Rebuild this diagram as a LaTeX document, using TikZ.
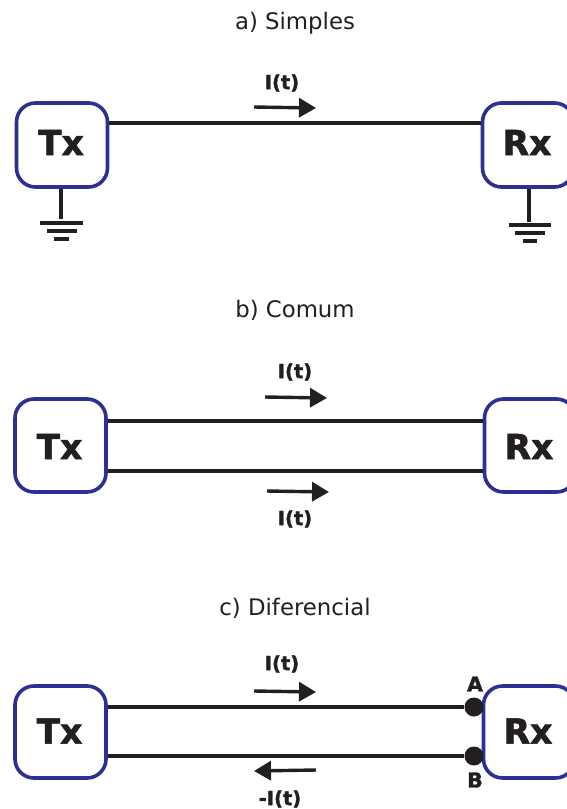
\documentclass[tikz,border=0pt]{standalone}
\usepackage{fontspec}
\setmainfont{DejaVu Sans}
\newfontfamily\heavyfont[FakeBold=1.6]{DejaVu Sans Bold}
\usetikzlibrary{arrows.meta}
\definecolor{boxblue}{RGB}{44,48,146}
\definecolor{ink}{RGB}{35,31,32}
\newcommand{\unitlab}[2][2.5pt]{\raisebox{#1}[\height][\depth]{#2}\kern2pt}
\tikzset{
  x=1pt,y=-1pt,
  unit/.style={draw=boxblue,line width=3.6pt,rounded corners=19pt,fill=white,minimum width=91pt,minimum height=#1,inner sep=0pt,text=ink,font=\heavyfont\fontsize{34.5}{34.5}\selectfont},
  title/.style={font=\fontsize{22.8}{26}\selectfont,text=ink,inner sep=0pt},
  wire/.style={draw=ink,line width=3.5pt},
  gnd/.style={draw=ink,line width=3.4pt},
  flow/.style={draw=ink,line width=3.4pt,-{Triangle[length=17pt,width=19pt]}},
  cur/.style={font=\heavyfont\fontsize{19.5}{22}\selectfont,text=ink,inner sep=0pt},
  term/.style={circle,fill=ink,minimum size=19pt,inner sep=0pt},
  pin/.style={font=\heavyfont\fontsize{20.5}{22}\selectfont,text=ink,inner sep=0pt}
}
\begin{document}
\begin{tikzpicture}
\useasboundingbox (0,0) rectangle (566,809);
% a
\node[title] (ta) at (295,23) {a) Simples};
\node[unit=84pt] (txa) at (62,145) {\unitlab{Tx}};
\node[unit=84pt] (rxa) at (528,145) {\unitlab{Rx}};
\draw[wire] (txa.east |- 0,123) -- (rxa.west |- 0,123);
\node[cur] (ia) at (282,83) {I(t)};
\coordinate (fa1) at (254,107);\coordinate (fa2) at (316,108);
\draw[flow] (fa1) -- (fa2);
\coordinate (ga) at (61,219);\coordinate (gb) at (529,222);
\draw[gnd] (txa.south -| ga) -- (ga);
\draw[gnd] (40,223) -- (83,223) (47,231) -- (77,231) (54,239) -- (69,239);
\draw[gnd] (rxa.south -| gb) -- (gb);
\draw[gnd] (509,225) -- (551,225) (515,233) -- (545,233) (523,241) -- (537,241);
% b
\node[title] (tb) at (295,310) {b) Comum};
\node[unit=93pt] (txb) at (60.5,445.5) {\unitlab[-1pt]{Tx}};
\node[unit=93pt] (rxb) at (530,445.5) {\unitlab[-1pt]{Rx}};
\draw[wire] (txb.east |- 0,421) -- (rxb.west |- 0,421);
\draw[wire] (txb.east |- 0,471) -- (rxb.west |- 0,471);
\node[cur] (ib1) at (295,372) {I(t)};
\node[cur] (ib2) at (295,519) {I(t)};
\coordinate (fb1) at (265,397);\coordinate (fb2) at (327,398);
\coordinate (fb3) at (267,491);\coordinate (fb4) at (329,492);
\draw[flow] (fb1) -- (fb2);
\draw[flow] (fb3) -- (fb4);
% c
\node[title] (tc) at (295,608) {c) Diferencial};
\node[unit=92pt] (txc) at (60.5,732) {\unitlab[1pt]{Tx}};
\node[unit=92pt] (rxc) at (529,732) {\unitlab[1pt]{Rx}};
\node[term] (a) at (474,707) {};
\node[term] (b) at (474,756) {};
\draw[wire] (txc.east |- a) -- (a);
\draw[wire] (txc.east |- b) -- (b);
\node[pin] (la) at (475,684) {A};
\node[pin] (lb) at (475,780) {B};
\node[cur] (ic1) at (282,664) {I(t)};
\node[cur] (ic2) at (280,799) {-I(t)};
\coordinate (fc1) at (254,691);\coordinate (fc2) at (316,692);
\coordinate (fc3) at (316,770);\coordinate (fc4) at (254,771);
\draw[flow] (fc1) -- (fc2);
\draw[flow] (fc3) -- (fc4);
\end{tikzpicture}
\end{document}
